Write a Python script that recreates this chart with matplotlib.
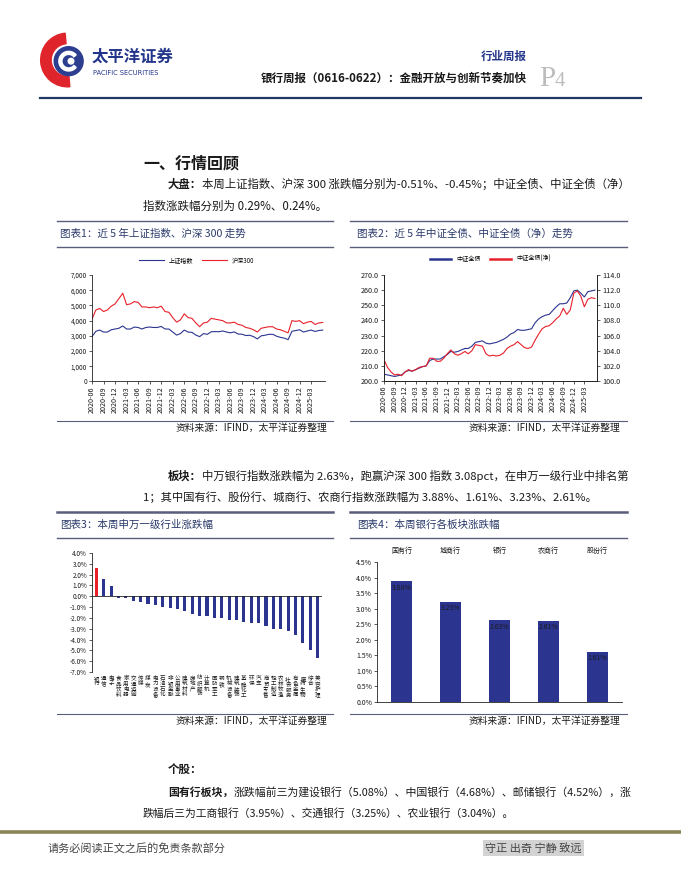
import matplotlib as mpl
mpl.use('Agg')
import matplotlib.pyplot as plt
from matplotlib.lines import Line2D
from matplotlib.patches import Circle, Wedge
from matplotlib.ticker import FuncFormatter
import numpy as np

mpl.rcParams['font.family'] = ['Noto Sans CJK SC', 'DejaVu Sans']
mpl.rcParams['axes.unicode_minus'] = False

W, H = 681, 881
NAVY = '#2B3590'
RED = '#E8202A'
TXT = '#1a1a1a'

# ---- data ----
months = ['%d-%02d' % (2020 + (5 + i) // 12, (5 + i) % 12 + 1) for i in range(61)]  # 2020-06 .. 2025-06

sh_index = [2950, 3300, 3380, 3250, 3250, 3400, 3450,
            3500, 3650, 3450, 3450, 3580, 3550, 3450, 3550, 3580, 3550, 3550, 3620,
            3450, 3450, 3250, 3050, 3150, 3380, 3250, 3230, 3050, 2950, 3150, 3100,
            3270, 3280, 3270, 3320, 3250, 3200, 3260, 3120, 3110, 3020, 3040, 2950,
            2800, 3000, 3040, 3100, 3100, 2980, 2900, 2850, 2750, 3300, 3350, 3400,
            3250, 3320, 3380, 3290, 3350, 3380]
hs300 = [4100, 4700, 4800, 4600, 4700, 4950, 5100,
         5450, 5800, 5050, 5100, 5250, 5200, 4900, 4900, 4850, 4900, 4850, 4950,
         4600, 4550, 4200, 3900, 4050, 4450, 4200, 4150, 3850, 3600, 3850, 3900,
         4150, 4100, 4050, 4000, 3850, 3850, 3900, 3750, 3700, 3550, 3500, 3400,
         3250, 3500, 3550, 3600, 3600, 3450, 3400, 3300, 3200, 4000, 3950, 4000,
         3800, 3900, 3950, 3750, 3850, 3880]

bond_full = [204.5, 204, 203.5, 203, 203.5, 204, 206,
             207, 206.5, 207.5, 208.5, 209.5, 210, 213.5, 214.5, 214.5, 214.5, 216, 217.5,
             219.5, 219, 219.5, 220.5, 221.5, 221.5, 223, 225.5, 226, 226.5, 225, 224.5,
             225, 225.5, 226.5, 227.5, 229, 231, 232, 234, 233.5, 233.5, 234, 234.5,
             238.5, 241, 242.5, 243.5, 244, 246.5, 249, 251, 251, 251.5, 255, 259.5,
             260, 258, 255.5, 259, 259.5, 260]
bond_net = [102.8, 101.8, 101.2, 100.8, 100.9, 100.7, 101.2,
            101.5, 101.3, 101.5, 101.8, 101.9, 102.0, 103.0, 103.0, 102.6, 102.6, 103.0, 103.6,
            104.1, 103.6, 103.4, 103.6, 103.9, 103.6, 104.0, 104.8, 104.7, 104.6, 103.6, 103.3,
            103.4, 103.3, 103.4, 103.7, 104.3, 104.6, 104.8, 105.2, 104.8, 104.4, 104.3, 104.5,
            105.4, 106.2, 106.9, 107.2, 107.3, 107.7, 108.2, 108.6, 109.6, 108.8, 109.4, 111.6,
            111.9, 111.2, 109.8, 110.8, 111.0, 110.9]

industries = ['银行', '通信', '电子', '食品饮料', '家用电器', '交通运输', '传媒', '煤炭',
              '电力设备', '石油石化', '非银金融', '公用事业', '建筑材料', '房地产', '纺织服饰',
              '计算机', '国防军工', '钢铁', '机械设备', '建筑装饰', '基础化工', '环保', '汽车',
              '商贸零售', '轻工制造', '农林牧渔', '社会服务', '有色金属', '医药生物', '综合', '美容护理']
ind_chg = [2.63, 1.60, 0.98, -0.15, -0.20, -0.40, -0.50, -0.75, -0.80, -1.00, -1.05,
           -1.15, -1.40, -1.65, -1.80, -1.80, -2.00, -2.00, -2.15, -2.20, -2.40, -2.50,
           -2.50, -2.75, -3.00, -3.05, -3.20, -3.55, -4.30, -5.00, -5.75]

segments = ['国有行', '城商行', '银行', '农商行', '股份行']
seg_chg = [3.88, 3.23, 2.63, 2.61, 1.61]

# ---- page ----
fig = plt.figure(figsize=(W / 100, H / 100), dpi=100)
renderer = fig.canvas.get_renderer()


def fx(x):
    return x / W


def fy(y):
    return 1 - y / H


def box(l, t, r, b):
    return [fx(l), fy(b), (r - l) / W, (b - t) / H]


def hline(x0, x1, y, color, lw):
    fig.add_artist(Line2D([fx(x0), fx(x1)], [fy(y), fy(y)], color=color, lw=lw))


def rich(x, y, parts, size=8.3, right=None):
    # optional right edge: shrink the font so the line ends there
    if right is not None:
        tot = 0
        for s, w in parts:
            t = fig.text(0, 0, s, fontsize=size, fontweight=w)
            tot += t.get_window_extent(renderer=renderer).width
            t.remove()
        size = size * (right - x) / tot
    for s, w in parts:
        t = fig.text(fx(x), fy(y), s, fontsize=size, fontweight=w, color=TXT, va='center', ha='left')
        x += t.get_window_extent(renderer=renderer).width


# logo
lg = fig.add_axes(box(36, 30, 92, 90))
lg.set_xlim(-1.2, 1.2)
lg.set_ylim(-1.3, 1.3)
lg.set_aspect('equal', adjustable='datalim')
lg.axis('off')
lg.add_patch(Wedge((0.15, 0), 1.15, 95, 275, width=0.45, color='#E0242B'))
lg.add_patch(Circle((0.2, -0.05), 0.62, color='#2D3E91'))
lg.add_patch(Wedge((0.2, -0.05), 0.42, 40, 320, width=0.13, color='white'))
lg.add_patch(Circle((0.3, -0.05), 0.12, color='white'))

fig.text(fx(92), fy(57), '太平洋证券', fontsize=11.8, fontweight='bold', color='#23358A', va='center')
fig.text(fx(93), fy(73), 'PACIFIC SECURITIES', fontsize=4.8, color='#23358A', va='center',
         family='DejaVu Sans')
fig.text(fx(527), fy(56), '行业周报', fontsize=8.3, fontweight='bold', color='#23358A',
         va='center', ha='right')
fig.text(fx(527), fy(78), '银行周报（0616-0622）：金融开放与创新节奏加快', fontsize=8.3,
         fontweight='bold', color=TXT, va='center', ha='right')
fig.text(fx(539), fy(86), 'P', fontsize=21, color='#BDBDBD', va='baseline', family='Liberation Serif')
fig.text(fx(555), fy(86), '4', fontsize=15, color='#BDBDBD', va='baseline', family='Liberation Serif')
hline(40, 641, 98, '#1F3864', 1.6)

# text block 1
fig.text(fx(143), fy(163), '一、行情回顾', fontsize=11.5, fontweight='bold', color=TXT, va='center')
rich(168, 184, [('大盘：', 'bold'),
                ('本周上证指数、沪深 300 涨跌幅分别为-0.51%、-0.45%；中证全债、中证全债（净）', 'normal')],
     right=630)
rich(143, 206, [('指数涨跌幅分别为 0.29%、0.24%。', 'normal')])

# chart title boxes
TITLE_C = '#2B3A6B'
LINE_C = '#5A5E7A'
for y, lw in [(221, 1.0), (247, 1.0), (512, 1.8), (538, 1.0)]:
    hline(57, 333, y, LINE_C, lw)
    hline(350, 627, y, LINE_C, lw)
fig.text(fx(60), fy(234), '图表1：近 5 年上证指数、沪深 300 走势', fontsize=7.6, color=TITLE_C, va='center')
fig.text(fx(357), fy(234), '图表2：近 5 年中证全债、中证全债（净）走势', fontsize=7.6, color=TITLE_C, va='center')
fig.text(fx(60), fy(525), '图表3：本周申万一级行业涨跌幅', fontsize=7.6, color=TITLE_C, va='center')
fig.text(fx(357), fy(525), '图表4：本周银行各板块涨跌幅', fontsize=7.6, color=TITLE_C, va='center')

# source lines
SRC = '资料来源：IFIND，太平洋证券整理'
for y_line, y_txt in [(421, 428), (714, 721)]:
    hline(57, 333, y_line, LINE_C, 0.8)
    hline(350, 627, y_line, LINE_C, 0.8)
    fig.text(fx(327), fy(y_txt), SRC, fontsize=7, style='italic', color=TXT, va='center', ha='right')
    fig.text(fx(620), fy(y_txt), SRC, fontsize=7, style='italic', color=TXT, va='center', ha='right')

TICK_FS = 4.6


def style_ax(ax):
    ax.tick_params(labelsize=TICK_FS, length=2, width=0.5, pad=1.5, colors=TXT)
    for s in ax.spines.values():
        s.set_linewidth(0.6)
        s.set_color('#222222')


x = np.arange(len(months))

# chart 1
ax1 = fig.add_axes(box(92, 275, 325, 381.5))
ax1.plot(x, sh_index, color=NAVY, lw=0.8, label='上证指数')
ax1.plot(x, hs300, color=RED, lw=0.8, label='沪深300')
ax1.set_xlim(0, 60.6)
ax1.set_ylim(0, 7000)
ax1.set_yticks(np.arange(0, 7001, 1000))
ax1.yaxis.set_major_formatter(FuncFormatter(lambda v, p: '{:,.0f}'.format(v)))
ax1.set_xticks(x[:58:3])
ax1.set_xticklabels(months[:58:3], rotation=90)
ax1.spines['top'].set_visible(False)
ax1.spines['right'].set_visible(False)
style_ax(ax1)
ax1.tick_params(axis='x', labelsize=5.2)
ax1.legend(loc='lower center', bbox_to_anchor=(0.45, 1.08), ncol=2, frameon=False,
           fontsize=4.4, handlelength=4, columnspacing=1.5, borderaxespad=0)

# chart 2
ax2 = fig.add_axes(box(384, 275, 597, 381))
ax2.plot(x, bond_full, color=NAVY, lw=0.8)
ax2r = ax2.twinx()
ax2r.plot(x, bond_net, color=RED, lw=0.8)
ax2.set_xlim(0, 60.6)
ax2.set_ylim(200, 270)
ax2r.set_ylim(100, 114)
ax2.set_yticks(np.arange(200, 271, 10))
ax2r.set_yticks(np.arange(100, 114.1, 2))
ax2.yaxis.set_major_formatter(FuncFormatter(lambda v, p: '%.1f' % v))
ax2r.yaxis.set_major_formatter(FuncFormatter(lambda v, p: '%.1f' % v))
ax2.set_xticks(x[:58:3])
ax2.set_xticklabels(months[:58:3], rotation=90)
for a in (ax2, ax2r):
    a.spines['top'].set_visible(False)
    style_ax(a)
ax2.tick_params(labelsize=5.2)
ax2r.tick_params(labelsize=5.2)
ax2.legend([Line2D([], [], color=NAVY, lw=1.8), Line2D([], [], color=RED, lw=1.8)],
           ['中证全债', '中证全债(净)'], loc='lower center', bbox_to_anchor=(0.5, 1.09),
           ncol=2, frameon=False, fontsize=4.4, handlelength=3.5, columnspacing=1.5, borderaxespad=0)

# chart 3
ax3 = fig.add_axes(box(92, 553, 322, 672))
ax3.bar(np.arange(len(industries)), ind_chg, width=0.42, color=[RED] + [NAVY] * (len(industries) - 1))
ax3.axhline(0, color='#222222', lw=0.6)
ax3.set_xlim(-0.6, len(industries) - 0.4)
ax3.set_ylim(-7, 4)
ax3.set_yticks(np.arange(-7, 4.1, 1))
ax3.yaxis.set_major_formatter(FuncFormatter(lambda v, p: '%.1f%%' % v))
ax3.set_xticks(np.arange(len(industries)))
ax3.set_xticklabels(['\n'.join(n) for n in industries], va='top', linespacing=1.05)
for s in ('top', 'right', 'bottom'):
    ax3.spines[s].set_visible(False)
style_ax(ax3)
ax3.tick_params(axis='x', length=0, labelsize=4.0, pad=3)

# chart 4
ax4 = fig.add_axes(box(377, 562, 622, 702))
ax4.bar(np.arange(len(segments)), seg_chg, width=0.41, color=NAVY)
for i, v in enumerate(seg_chg):
    ax4.text(i, v - 0.08, '%.2f%%' % v, ha='center', va='top', fontsize=5, color=TXT)
ax4.set_xlim(-0.5, len(segments) - 0.5)
ax4.set_ylim(0, 4.5)
ax4.set_yticks(np.arange(0, 4.51, 0.5))
ax4.yaxis.set_major_formatter(FuncFormatter(lambda v, p: '%.1f%%' % v))
ax4.xaxis.tick_top()
ax4.set_xticks(np.arange(len(segments)))
ax4.set_xticklabels(segments)
ax4.spines['top'].set_visible(False)
ax4.spines['right'].set_visible(False)
style_ax(ax4)
ax4.tick_params(axis='y', labelsize=5)
ax4.tick_params(axis='x', length=0, labelsize=5, pad=5)

# text block 2
rich(168, 476, [('板块：', 'bold'),
                ('中万银行指数涨跌幅为 2.63%，跑赢沪深 300 指数 3.08pct，在申万一级行业中排名第', 'normal')],
     right=630)
rich(143, 497, [('1；其中国有行、股份行、城商行、农商行指数涨跌幅为 3.88%、1.61%、3.23%、2.61%。', 'normal')],
     right=597)

# text block 3
rich(168, 769, [('个股：', 'bold')])
rich(168, 792, [('国有行板块，', 'bold'),
                ('涨跌幅前三为建设银行（5.08%）、中国银行（4.68%）、邮储银行（4.52%），涨', 'normal')],
     right=632)
rich(143, 813, [('跌幅后三为工商银行（3.95%）、交通银行（3.25%）、农业银行（3.04%）。', 'normal')],
     right=514)

# footer
hline(0, 681, 832, '#8A8458', 2.6)
fig.text(fx(48), fy(848), '请务必阅读正文之后的免责条款部分', fontsize=8, color='#444444', va='center')
fig.text(fx(485), fy(848), '守正 出奇 宁静 致远', fontsize=8, color='#444444', va='center',
         bbox=dict(facecolor='#D3D3D3', edgecolor='none', pad=1.5))

fig.savefig('out.png', dpi=100)
